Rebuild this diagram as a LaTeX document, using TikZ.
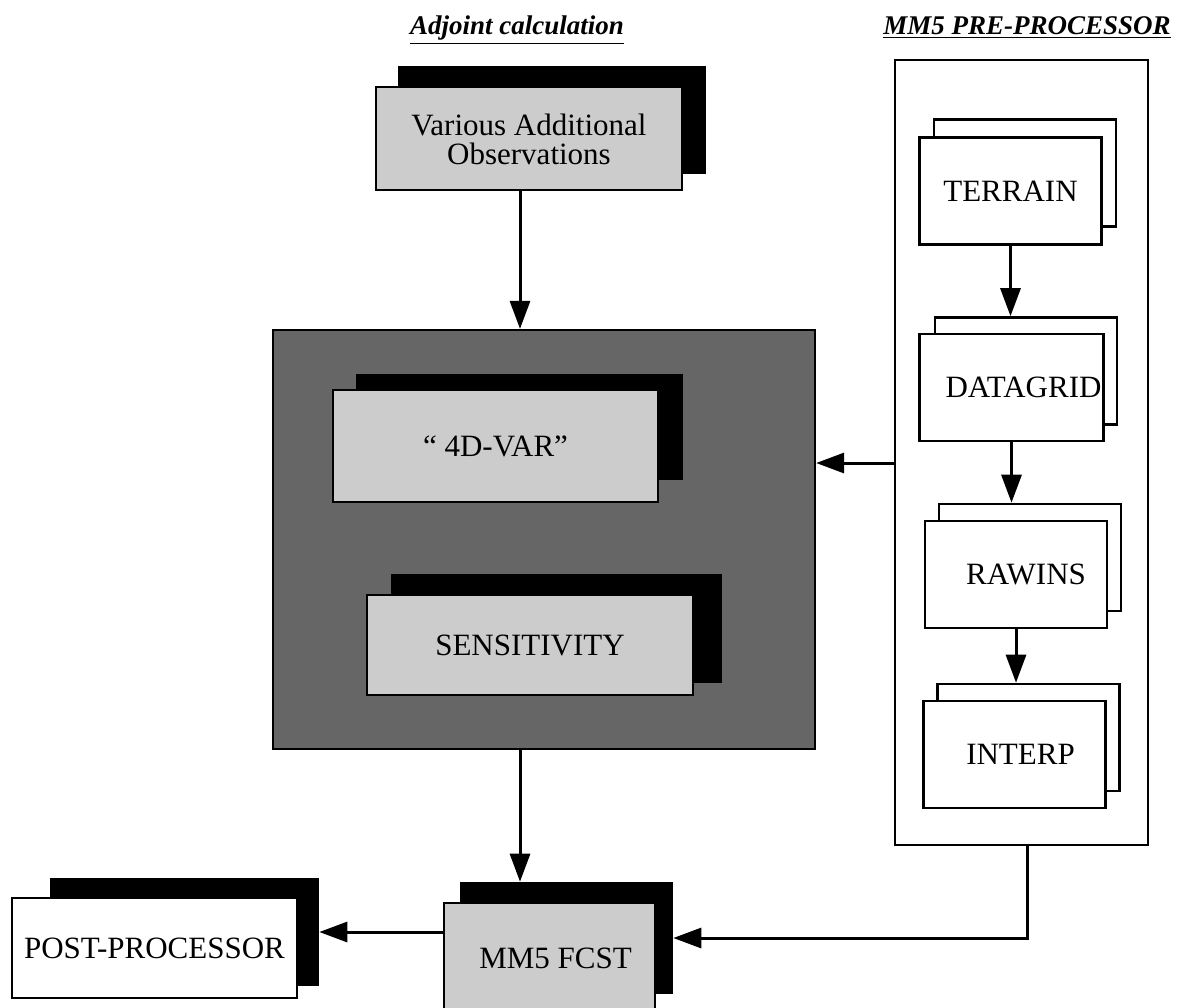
\documentclass[tikz,border=0pt]{standalone}
\usepackage{fontspec}
\setmainfont{Liberation Serif}
\usepackage{tikz}
\usetikzlibrary{arrows.meta}
\definecolor{dotgray}{gray}{0.80}
\definecolor{screen}{gray}{0.40}
\newcommand{\boxfont}{\fontsize{15.5}{14.5}\selectfont}
\newcommand{\headfont}{\fontsize{13.5}{16}\selectfont\bfseries\itshape}
\tikzstyle{heading} = [font=\headfont, inner sep=1pt]
\tikzstyle{front} = [draw, line width=1.3pt, fill=dotgray, font=\boxfont, align=center, inner sep=1pt]
\tikzstyle{back} = [draw, line width=1.3pt, fill=black, inner sep=0pt]
\tikzstyle{prebox} = [draw, line width=1.3pt, fill=white, font=\boxfont, minimum width=91pt, minimum height=53.5pt, inner sep=1pt]
\tikzstyle{flow} = [line width=1.5pt, -{Triangle[length=14pt,width=10pt]}]

\begin{document}
\begin{tikzpicture}[x=0.5pt, y=-0.5pt]
	\useasboundingbox (0,0) rectangle (1186,1007);
	% headings
	\node[heading] (adjtitle) at (517,30) {\underline{Adjoint calculation}};
	\node[heading] (pretitle) at (1027,28) {\underline{MM5 PRE-PROCESSOR}};

	% adjoint side
	\node[back, minimum width=153pt, minimum height=53pt] (obsback) at (552,120) {};
	\node[front, minimum width=153pt, minimum height=51.5pt] (obs) at (529,138.5) {\\[-3pt]Various Additional\\Observations};

	\node[draw, line width=1.1pt, fill=screen, minimum width=271pt, minimum height=209.5pt] (adjoint) at (544,539.5) {};
	\node[back, minimum width=162.5pt, minimum height=52pt] (varback) at (519.5,427) {};
	\node[front, minimum width=162.5pt, minimum height=56pt] (var) at (495.5,446) {“ 4D-VAR”};
	\node[back, minimum width=164.5pt, minimum height=53.5pt] (sensback) at (556.5,628.5) {};
	\node[front, minimum width=163pt, minimum height=50pt] (sens) at (530,645) {SENSITIVITY};

	% forecast and post
	\node[back, minimum width=105.5pt, minimum height=55pt] (fcstback) at (566.5,938) {};
	\node[front, minimum width=105.5pt, minimum height=55pt] (fcst) at (549.5,958) {\hspace*{6pt}MM5 FCST};
	\node[back, minimum width=133.5pt, minimum height=53pt] (postback) at (184.5,932) {};
	\node[front, fill=white, minimum width=142.5pt, minimum height=50pt] (post) at (154.5,948) {POST-PROCESSOR};

	% pre-processor
	\node[draw, line width=1.1pt, minimum width=126.5pt, minimum height=392.5pt] (pre) at (1021.5,452.5) {};
	\node[prebox] (terrainback) at (1025,173) {};
	\node[prebox] (terrain) at (1010.5,191) {TERRAIN};
	\node[prebox] (datagridback) at (1026,371) {};
	\node[prebox] (datagrid) at (1011.5,387.5) {\hspace*{12pt}DATAGRID};
	\node[prebox] (rawinsback) at (1030,557.5) {};
	\node[prebox] (rawins) at (1016,574.5) {\hspace*{10pt}RAWINS};
	\node[prebox] (interpback) at (1028.5,737.5) {};
	\node[prebox] (interp) at (1014.5,754.5) {\hspace*{6pt}INTERP};

	% connectors
	\coordinate (axis) at (520,0);
	\coordinate (feed) at (0,463);
	\draw[flow] (obs.south -| axis) -- (adjoint.north -| axis);
	\draw[flow] (adjoint.south -| axis) -- (fcstback.north -| axis);
	\draw[flow] (pre.west |- feed) -- (adjoint.east |- feed);
	\draw[flow] (terrain.south) -- (terrain.south |- datagridback.north);
	\draw[flow] (datagrid.south) -- (datagrid.south |- rawinsback.north);
	\draw[flow] (rawins.south) -- (rawins.south |- interpback.north);
	\draw[flow] ([xshift=3pt]pre.south) |- (fcstback.east);
	\draw[flow] (fcst.west |- postback.east) -- (postback.east);
\end{tikzpicture}
\end{document}
